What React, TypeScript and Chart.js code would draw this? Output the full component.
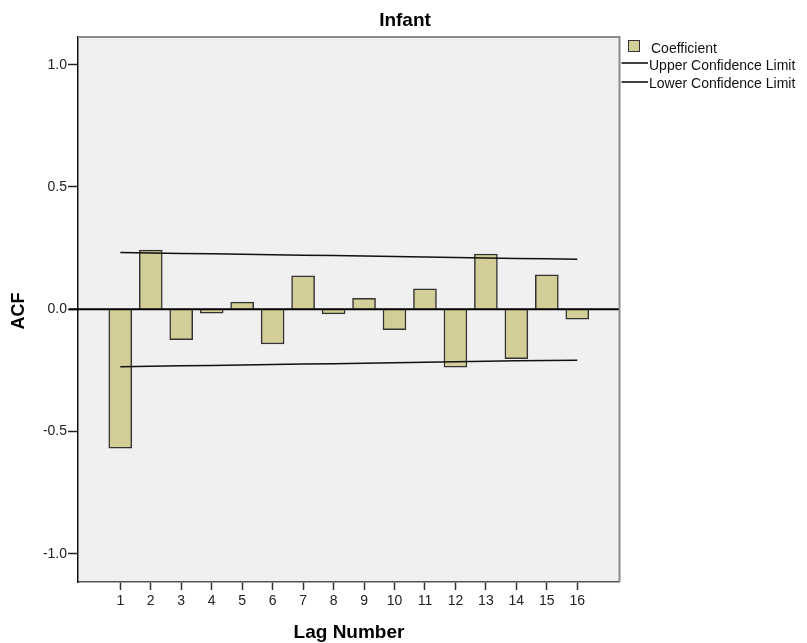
import React, { useEffect, useRef } from "react";
import { Chart, registerables } from "chart.js";

Chart.register(...registerables);

const chartTitle = "Infant";
const xTitle = "Lag Number";
const yTitle = "ACF";
const lags = [1, 2, 3, 4, 5, 6, 7, 8, 9, 10, 11, 12, 13, 14, 15, 16];
const coefficient = [-0.568, 0.242, -0.124, -0.016, 0.029, -0.142, 0.137, -0.019, 0.045, -0.083, 0.083, -0.237, 0.226, -0.202, 0.141, -0.041];
const upperLimit = [0.232, 0.230, 0.228, 0.227, 0.225, 0.223, 0.221, 0.220, 0.218, 0.216, 0.214, 0.212, 0.210, 0.208, 0.206, 0.204];
const lowerLimit = [-0.235, -0.233, -0.231, -0.230, -0.228, -0.226, -0.224, -0.223, -0.221, -0.219, -0.217, -0.215, -0.213, -0.211, -0.209, -0.208];
const yTicks = [-1.0, -0.5, 0.0, 0.5, 1.0];
const legendLabels = ["Coefficient", "Upper Confidence Limit", "Lower Confidence Limit"];

const FONT = "'Liberation Sans', Arial, sans-serif";
const BAR_FILL = "#d3ce97";

const decorPlugin = {
  id: "decor",
  beforeDraw(chart: any) {
    const { ctx, chartArea: a } = chart;
    ctx.save();
    ctx.fillStyle = "#ffffff";
    ctx.fillRect(0, 0, chart.width, chart.height);
    ctx.fillStyle = "#f0f0f0";
    ctx.fillRect(a.left, a.top, a.right - a.left, a.bottom - a.top);
    ctx.restore();
  },
  afterDatasetsDraw(chart: any) {
    const { ctx, chartArea: a, scales } = chart;
    const y0 = scales.y.getPixelForValue(0);
    ctx.save();
    ctx.strokeStyle = "#000";
    ctx.lineWidth = 2;
    ctx.beginPath();
    ctx.moveTo(a.left - 9, y0);
    ctx.lineTo(a.right, y0);
    ctx.stroke();
    ctx.strokeStyle = "#8a8a8a";
    ctx.lineWidth = 2;
    ctx.beginPath();
    ctx.moveTo(a.left, a.top);
    ctx.lineTo(a.right, a.top);
    ctx.lineTo(a.right, a.bottom);
    ctx.stroke();
    ctx.restore();
  },
  afterDraw(chart: any) {
    const { ctx } = chart;
    ctx.save();
    ctx.fillStyle = "#000";
    ctx.font = `bold 19px ${FONT}`;
    ctx.textAlign = "center";
    ctx.textBaseline = "alphabetic";
    ctx.fillText(chartTitle, 405, 26);
    ctx.fillText(xTitle, 349, 638);
    ctx.save();
    ctx.font = `bold 18px ${FONT}`;
    ctx.translate(23.5, 311);
    ctx.rotate(-Math.PI / 2);
    ctx.fillText(yTitle, 0, 0);
    ctx.restore();
    ctx.font = `14px ${FONT}`;
    ctx.textAlign = "left";
    ctx.fillStyle = BAR_FILL;
    ctx.fillRect(628.5, 40.5, 11, 11);
    ctx.strokeStyle = "#333";
    ctx.lineWidth = 1;
    ctx.strokeRect(628.5, 40.5, 11, 11);
    ctx.fillStyle = "#111";
    ctx.fillText(legendLabels[0], 651, 52.5);
    ctx.strokeStyle = "#000";
    ctx.lineWidth = 1.5;
    ctx.beginPath();
    ctx.moveTo(621.5, 63);
    ctx.lineTo(648, 63);
    ctx.moveTo(621.5, 82);
    ctx.lineTo(648, 82);
    ctx.stroke();
    ctx.fillText(legendLabels[1], 649, 69.5);
    ctx.fillText(legendLabels[2], 649, 88);
    ctx.restore();
  },
};

export default function App() {
  const canvasRef = useRef<HTMLCanvasElement | null>(null);

  useEffect(() => {
    document.body.style.margin = "0";
    const canvas = canvasRef.current;
    if (!canvas) return;
    const chart = new Chart(canvas, {
      type: "bar",
      data: {
        datasets: [
          {
            type: "bar",
            label: legendLabels[0],
            data: lags.map((l, i) => ({ x: l, y: coefficient[i] })),
            backgroundColor: BAR_FILL,
            borderColor: "#333333",
            borderWidth: 1.5,
            barThickness: 23,
            order: 2,
          } as any,
          {
            type: "line",
            label: legendLabels[1],
            data: lags.map((l, i) => ({ x: l, y: upperLimit[i] })),
            borderColor: "#111",
            borderWidth: 1.5,
            pointRadius: 0,
            fill: false,
            tension: 0,
            order: 1,
          } as any,
          {
            type: "line",
            label: legendLabels[2],
            data: lags.map((l, i) => ({ x: l, y: lowerLimit[i] })),
            borderColor: "#111",
            borderWidth: 1.5,
            pointRadius: 0,
            fill: false,
            tension: 0,
            order: 1,
          } as any,
        ],
      },
      options: {
        responsive: false,
        animation: false,
        devicePixelRatio: 1,
        layout: { padding: { left: 0, top: 37, right: 187.5, bottom: 0 } },
        plugins: {
          legend: { display: false },
          title: { display: false },
          tooltip: { enabled: false },
        },
        scales: {
          x: {
            type: "linear",
            min: -0.388,
            max: 17.385,
            offset: false,
            afterFit: (s: any) => {
              s.height = 61;
            },
            afterBuildTicks: (s: any) => {
              s.ticks = lags.map((v) => ({ value: v }));
            },
            grid: {
              offset: false,
              drawOnChartArea: false,
              drawTicks: true,
              tickLength: 8,
              tickColor: "#333",
              tickWidth: 1.5,
            },
            border: { display: true, color: "#555", width: 1.5 },
            ticks: {
              autoSkip: false,
              maxRotation: 0,
              padding: 3,
              color: "#222",
              font: { family: FONT, size: 14 },
              callback: (v: any) => String(v),
            },
          },
          y: {
            type: "linear",
            min: -1.115,
            max: 1.113,
            afterFit: (s: any) => {
              s.width = 78;
            },
            afterBuildTicks: (s: any) => {
              s.ticks = yTicks.map((v) => ({ value: v }));
            },
            grid: {
              drawOnChartArea: false,
              drawTicks: true,
              tickLength: 10,
              tickColor: "#222",
              tickWidth: 1.5,
            },
            border: { display: true, color: "#111", width: 1.5 },
            ticks: {
              padding: 1,
              color: "#222",
              font: { family: FONT, size: 14 },
              callback: (v: any) => Number(v).toFixed(1),
            },
          },
        },
      },
      plugins: [decorPlugin],
    });
    return () => chart.destroy();
  }, []);

  return (
    <div style={{ width: 807, height: 643 }}>
      <canvas ref={canvasRef} width={807} height={643} style={{ display: "block" }} />
    </div>
  );
}
